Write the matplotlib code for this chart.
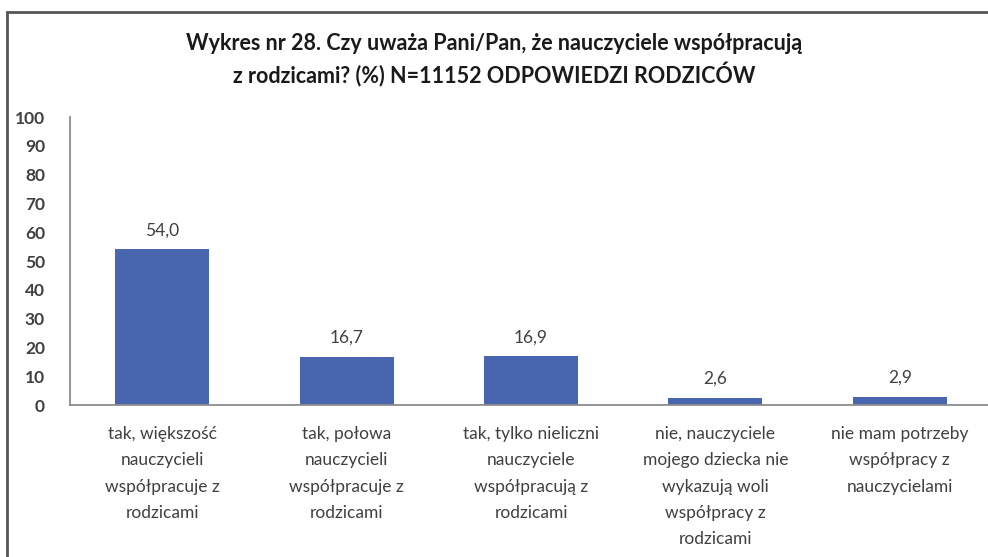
import matplotlib.pyplot as plt
import matplotlib.patches as patches

categories = [
    "tak, większość\nnauczycieli\nwspółpracuje z\nrodzicami",
    "tak, połowa\nnauczycieli\nwspółpracuje z\nrodzicami",
    "tak, tylko nieliczni\nnauczyciele\nwspółpracują z\nrodzicami",
    "nie, nauczyciele\nmojego dziecka nie\nwykazują woli\nwspółpracy z\nrodzicami",
    "nie mam potrzeby\nwspółpracy z\nnauczycielami",
]
values = [54.0, 16.7, 16.9, 2.6, 2.9]
yticks = list(range(0, 101, 10))

title = ("Wykres nr 28. Czy uważa Pani/Pan, że nauczyciele współpracują\n"
         "z rodzicami? (%) N=11152 ODPOWIEDZI RODZICÓW")

plt.rcParams['font.family'] = ['Lato', 'DejaVu Sans']
text_col = '#404040'
bar_col = '#4866b0'

fig = plt.figure(figsize=(9.88, 5.57), dpi=100)
ax = fig.add_axes([70 / 988, (557 - 405) / 557, 922 / 988, 288 / 557])

x = list(range(len(values)))
ax.bar(x, values, width=0.51, color=bar_col)
for xi, v in zip(x, values):
    ax.annotate(f"{v:.1f}".replace('.', ','), (xi, v), xytext=(0, 8),
                textcoords='offset points', ha='center', va='bottom',
                fontsize=12.5, color=text_col)

ax.set_xlim(-0.5, len(values) - 0.5)
ax.set_ylim(0, 100)
ax.set_yticks(yticks)
ax.set_xticks(x)
ax.set_xticklabels(categories, fontsize=12.5, color=text_col, linespacing=1.8)
ax.tick_params(axis='x', length=0, pad=15)
ax.tick_params(axis='y', length=0, pad=18, labelsize=12.5, labelcolor=text_col)
for lbl in ax.get_yticklabels():
    lbl.set_fontweight('bold')
for s in ['top', 'right']:
    ax.spines[s].set_visible(False)
for s in ['left', 'bottom']:
    ax.spines[s].set_color('#8c8c8c')
    ax.spines[s].set_linewidth(1.3)

fig.text(494 / 988, 1 - 60 / 557, title, ha='center', va='center',
         fontsize=15.5, fontweight='bold', color='#1a1a1a', linespacing=1.4)

# outer frame of the chart box
frame = patches.Rectangle((7 / 988, -0.1), 1.1, 1 - 12 / 557 + 0.1,
                          transform=fig.transFigure, fill=False,
                          edgecolor='#555555', linewidth=2, clip_on=False)
fig.patches.append(frame)

fig.savefig('out.png', dpi=100)
